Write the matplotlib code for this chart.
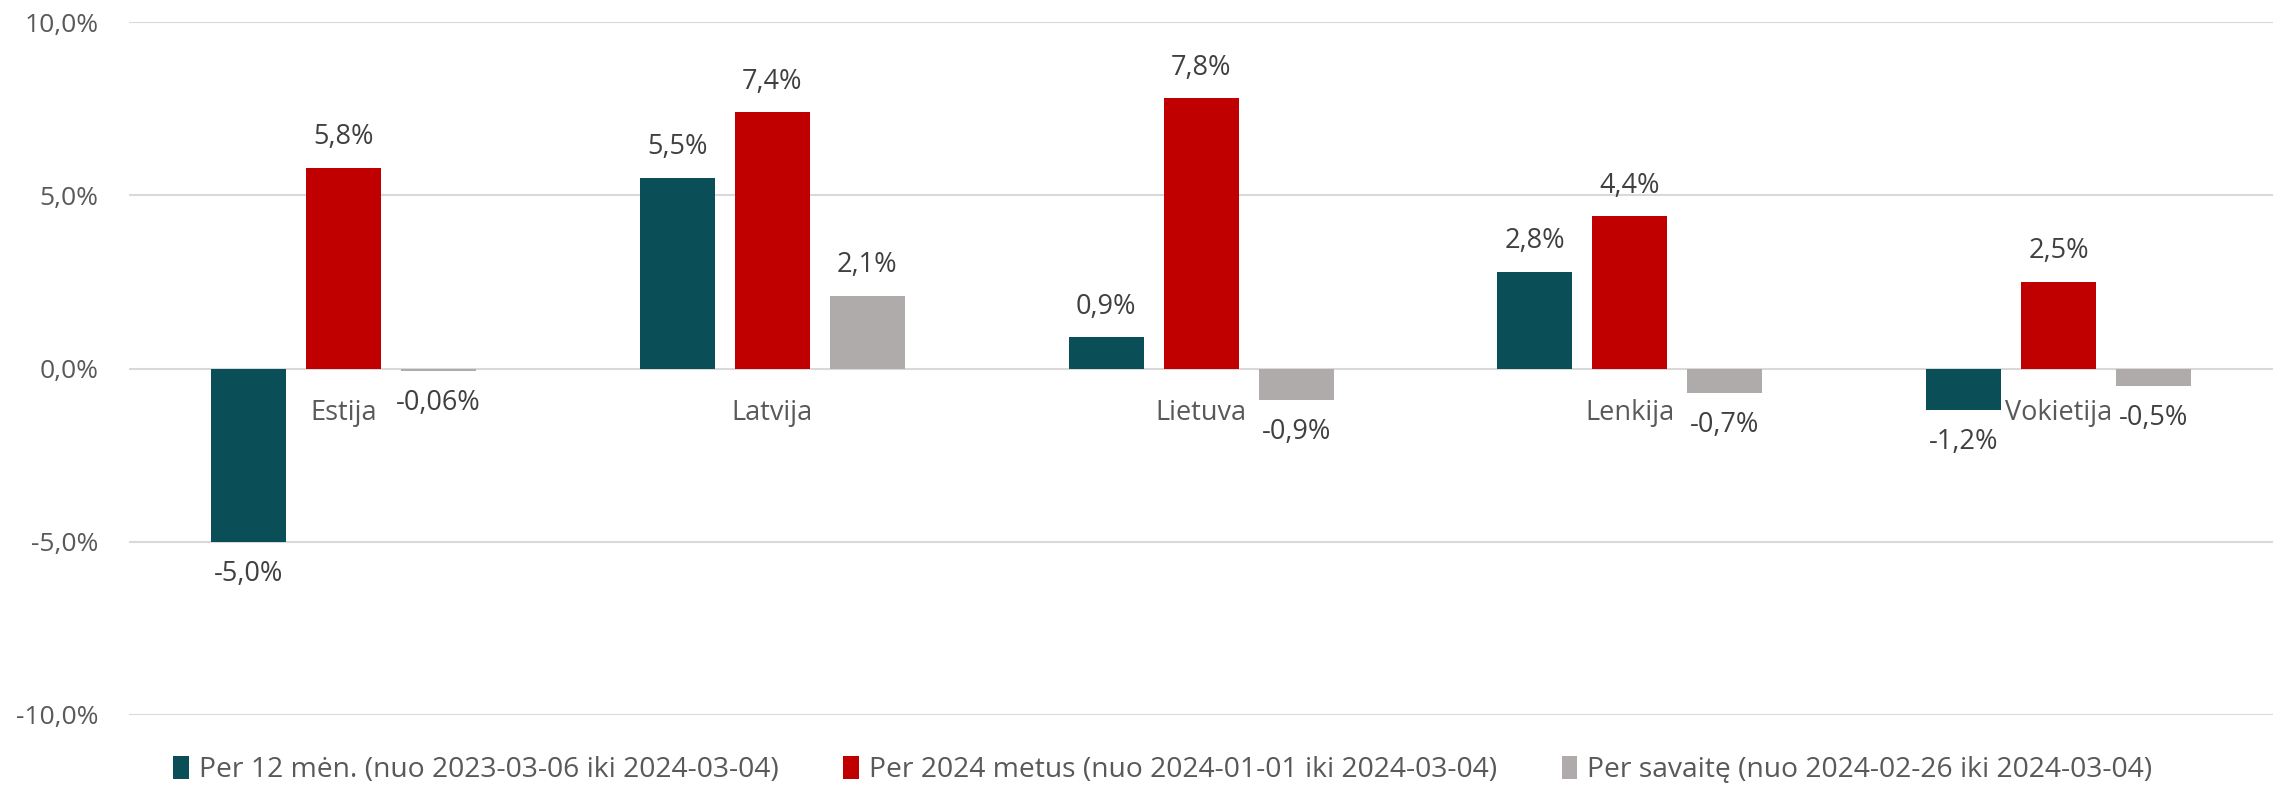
import matplotlib.pyplot as plt
import numpy as np

plt.rcParams['font.family'] = ['Open Sans', 'DejaVu Sans']

# data
countries = ["Estija", "Latvija", "Lietuva", "Lenkija", "Vokietija"]
series_names = [
    "Per 12 mėn. (nuo 2023-03-06 iki 2024-03-04)",
    "Per 2024 metus (nuo 2024-01-01 iki 2024-03-04)",
    "Per savaitę (nuo 2024-02-26 iki 2024-03-04)",
]
per_12_men = [-5.0, 5.5, 0.9, 2.8, -1.2]
per_2024 = [5.8, 7.4, 7.8, 4.4, 2.5]
per_savaite = [-0.06, 2.1, -0.9, -0.7, -0.5]
colors = ["#0A4F57", "#C00000", "#AFABAB"]

y_ticks = [-10, -5, 0, 5, 10]


def fmt_pct(v):
    decimals = 2 if abs(v) < 0.1 else 1
    return f"{v:.{decimals}f}".replace(".", ",") + "%"


fig = plt.figure(figsize=(22.8, 7.91), dpi=100)
ax = fig.add_axes([0.0566, 0.0961, 0.9404, 0.876])

x = np.arange(len(countries))
width = 0.175
offset = 0.2215

for i, (vals, name, col) in enumerate(zip([per_12_men, per_2024, per_savaite], series_names, colors)):
    pos = x + (i - 1) * offset
    ax.bar(pos, vals, width, color=col, label=name, zorder=3)
    for px, v in zip(pos, vals):
        dy = 22 if v >= 0 else -23
        ax.annotate(fmt_pct(v), (px, v), xytext=(0, dy), textcoords="offset points",
                    ha="center", va="center", fontsize=19.5, color="#404040", zorder=4)

# category names sit just under the zero line
for xi, name in zip(x, countries):
    ax.annotate(name, (xi, 0), xytext=(0, -32), textcoords="offset points",
                ha="center", va="center", fontsize=19.5, color="#595959", zorder=4)

ax.set_xlim(-0.5, len(countries) - 0.5)
ax.set_ylim(-10, 10)
ax.set_yticks(y_ticks)
ax.set_yticklabels([f"{t:.1f}".replace(".", ",") + "%" for t in y_ticks], fontsize=19, color="#595959")
ax.set_xticks([])
ax.tick_params(axis="y", length=0, pad=22)
ax.grid(axis="y", color="#D9D9D9", linewidth=1.5, zorder=0)
for s in ax.spines.values():
    s.set_visible(False)

fig.legend(loc="center", bbox_to_anchor=(0.51, 0.026), ncol=3, frameon=False, fontsize=20.3,
           handlelength=0.55, handleheight=0.85, handletextpad=0.35, columnspacing=2.3,
           labelcolor="#595959")

fig.savefig("out.png", dpi=100)
